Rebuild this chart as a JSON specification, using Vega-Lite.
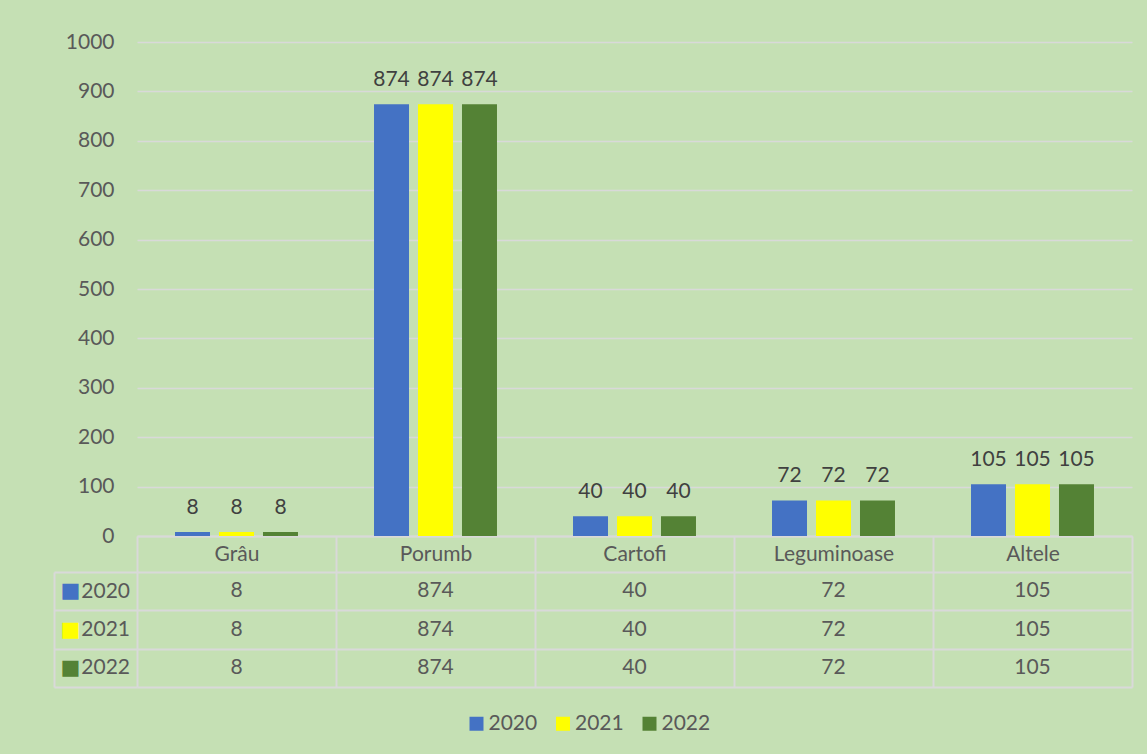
{
  "$schema": "https://vega.github.io/schema/vega-lite/v6.json",
  "background": "#C5E0B4",
  "padding": {"left": 53, "top": 31, "right": 15, "bottom": 23},
  "bounds": "flush",
  "spacing": 36,
  "config": {
    "font": "Lato",
    "view": {"stroke": null},
    "axis": {"labelFont": "Lato", "labelFontSize": 21, "labelColor": "#595959"}
  },
  "data": {
    "values": [
      {"crop": "Grâu", "year": "2020", "value": 8},
      {"crop": "Grâu", "year": "2021", "value": 8},
      {"crop": "Grâu", "year": "2022", "value": 8},
      {"crop": "Porumb", "year": "2020", "value": 874},
      {"crop": "Porumb", "year": "2021", "value": 874},
      {"crop": "Porumb", "year": "2022", "value": 874},
      {"crop": "Cartofi", "year": "2020", "value": 40},
      {"crop": "Cartofi", "year": "2021", "value": 40},
      {"crop": "Cartofi", "year": "2022", "value": 40},
      {"crop": "Leguminoase", "year": "2020", "value": 72},
      {"crop": "Leguminoase", "year": "2021", "value": 72},
      {"crop": "Leguminoase", "year": "2022", "value": 72},
      {"crop": "Altele", "year": "2020", "value": 105},
      {"crop": "Altele", "year": "2021", "value": 105},
      {"crop": "Altele", "year": "2022", "value": 105}
    ]
  },
  "vconcat": [
    {
      "width": 995,
      "height": 494,
      "encoding": {
        "x": {
          "field": "crop", "type": "nominal",
          "sort": ["Grâu", "Porumb", "Cartofi", "Leguminoase", "Altele"],
          "scale": {"paddingInner": 0, "paddingOuter": 0},
          "axis": {
            "title": null, "orient": "bottom",
            "domain": true, "domainColor": "#D9D9D9", "domainWidth": 2,
            "ticks": true, "tickBand": "extent", "tickSize": 36, "tickColor": "#D9D9D9", "tickWidth": 2,
            "labelAngle": 0, "labelBaseline": "middle", "labelPadding": -18, "labelColor": "#595959"
          }
        },
        "xOffset": {
          "field": "year", "type": "nominal",
          "scale": {"paddingInner": 0.2045, "paddingOuter": 0.864}
        },
        "y": {
          "field": "value", "type": "quantitative",
          "scale": {"domain": [0, 1000], "nice": false},
          "axis": {
            "title": null, "values": [0, 100, 200, 300, 400, 500, 600, 700, 800, 900, 1000],
            "format": "d",
            "domain": false, "ticks": false, "labelPadding": 23,
            "grid": true, "gridColor": "#D9D9D9", "gridWidth": 1.5
          }
        }
      },
      "layer": [
        {
          "mark": {"type": "bar"},
          "encoding": {
            "color": {
              "field": "year", "type": "nominal",
              "scale": {"domain": ["2020", "2021", "2022"], "range": ["#4472C4", "#FFFF00", "#548235"]},
              "legend": {
                "title": null, "orient": "none", "direction": "horizontal",
                "legendX": 329, "legendY": 671, "padding": 0,
                "symbolType": "square", "symbolSize": 196, "symbolStrokeWidth": 0, "symbolOpacity": 1,
                "labelOffset": 1.5, "columnPadding": 14.5,
                "labelFont": "Lato", "labelFontSize": 21, "labelColor": "#595959"
              }
            }
          }
        },
        {
          "mark": {"type": "text", "baseline": "alphabetic", "dy": -18.5, "fontSize": 21, "color": "#404040"},
          "encoding": {"text": {"field": "value", "type": "quantitative"}}
        }
      ]
    },
    {
      "width": 995,
      "height": 115,
      "encoding": {
        "x": {
          "field": "crop", "type": "nominal",
          "sort": ["Grâu", "Porumb", "Cartofi", "Leguminoase", "Altele"],
          "scale": {"paddingInner": 0, "paddingOuter": 0},
          "axis": {
            "title": null, "labels": false, "ticks": false, "domain": false,
            "grid": true, "tickBand": "extent", "gridColor": "#D9D9D9", "gridWidth": 2
          }
        }
      },
      "layer": [
        {
          "mark": {"type": "text", "fontSize": 21, "color": "#595959", "baseline": "middle"},
          "encoding": {
            "y": {
              "field": "year", "type": "nominal",
              "scale": {"paddingInner": 0, "paddingOuter": 0},
              "axis": {
                "title": null, "orient": "left", "domain": false,
                "grid": true, "tickBand": "extent", "gridColor": "#D9D9D9", "gridWidth": 2,
                "ticks": true, "tickSize": 83, "tickColor": "#D9D9D9", "tickWidth": 2,
                "labelAlign": "right", "labelBaseline": "middle", "labelPadding": -75.5
              }
            },
            "text": {"field": "value", "type": "quantitative"}
          }
        },
        {
          "mark": {"type": "point", "opacity": 0},
          "encoding": {
            "y": {
              "field": "year", "type": "nominal",
              "scale": {"paddingInner": 0, "paddingOuter": 0},
              "axis": {
                "title": null, "orient": "left", "offset": 83,
                "domain": true, "domainColor": "#D9D9D9", "domainWidth": 2,
                "ticks": false, "grid": false,
                "labelExpr": "'■'", "labelFont": "DejaVu Sans", "labelFontSize": 21,
                "labelAlign": "center", "labelBaseline": "middle", "labelPadding": -16,
                "labelColor": {
                  "condition": [
                    {"test": "datum.value == '2020'", "value": "#4472C4"},
                    {"test": "datum.value == '2021'", "value": "#FFFF00"}
                  ],
                  "value": "#548235"
                }
              }
            }
          }
        }
      ],
      "resolve": {"axis": {"y": "independent"}}
    }
  ]
}
